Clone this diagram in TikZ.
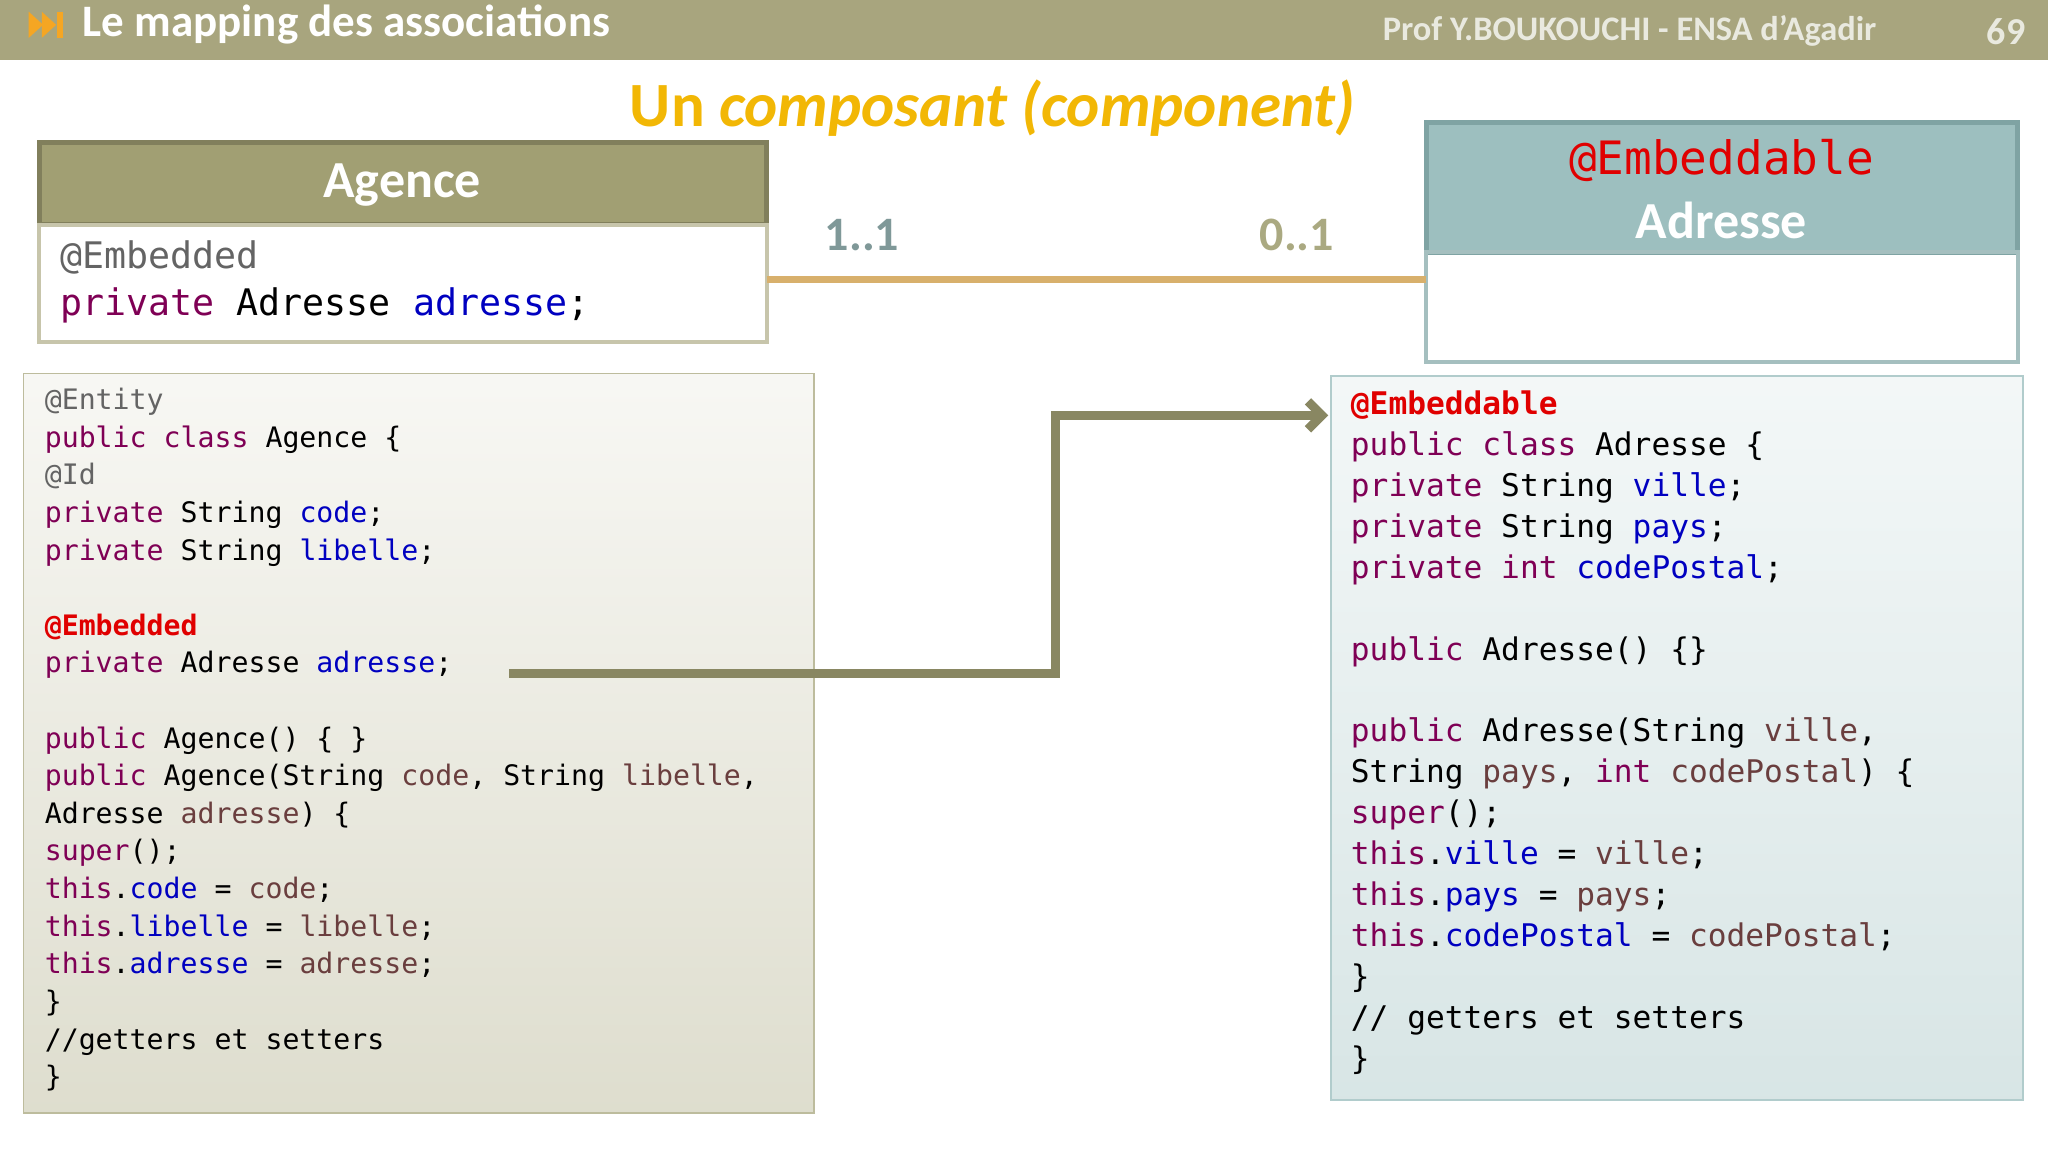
\documentclass[tikz,border=0pt]{standalone}
\usepackage{fontspec}
\usetikzlibrary{arrows.meta}
\setmainfont{Carlito}
\newfontfamily\codef{DejaVu Sans Mono}
\definecolor{kw}{HTML}{7F0055}
\definecolor{fd}{HTML}{0000C0}
\definecolor{pa}{HTML}{6A3E3E}
\definecolor{an}{HTML}{646464}
\definecolor{rd}{HTML}{E00000}
\definecolor{bar}{HTML}{A8A57E}
\definecolor{olv}{HTML}{A19F73}
\definecolor{teal}{HTML}{9DBFBF}
\definecolor{tealb}{HTML}{7FA3A3}
\definecolor{ttl}{HTML}{F2B705}
\definecolor{icn}{HTML}{F5A623}
\definecolor{lnk}{HTML}{D8B06C}
\newcommand{\kw}[1]{\textcolor{kw}{#1}}
\newcommand{\fd}[1]{\textcolor{fd}{#1}}
\newcommand{\pa}[1]{\textcolor{pa}{#1}}
\newcommand{\an}[1]{\textcolor{an}{#1}}
\newcommand{\rd}[1]{\textcolor{rd}{\bfseries #1}}
\begin{document}
\begin{tikzpicture}[x=0.653pt,y=-0.653pt,
  codebox/.style={anchor=north west,align=left,inner sep=0pt},
  hdr/.style={font=\bfseries\fontsize{26}{30}\selectfont,text=white}]
\useasboundingbox (0,0) rectangle (1568,882);
\fill[white] (0,0) rectangle (1568,882);
% top bar
\fill[bar] (0,0) rectangle (1568,46);
\fill[icn] (22,9) -- (33,19) -- (22,29) -- cycle;
\fill[icn] (32,9) -- (43,19) -- (32,29) -- cycle;
\fill[icn] (44,9) rectangle (48,29);
\node[anchor=west,text=white,font=\bfseries\fontsize{22.5}{24}\selectfont] (t1) at (58,19) {Le mapping des associations};
\node[anchor=east,text=white!75!bar,font=\bfseries\fontsize{17.2}{19}\selectfont] (t2) at (1442,24) {Prof Y.BOUKOUCHI - ENSA d'Agadir};
\node[anchor=east,text=white!75!bar,font=\bfseries\fontsize{19}{20}\selectfont] (t3) at (1556,24) {69};
% title
\node[text=ttl,font=\bfseries\fontsize{31.5}{34}\selectfont] (title) at (760,83) {Un \textit{composant (component)}};
% Agence box
\fill[olv] (30,109) rectangle (587,172);
\draw[line width=2.5pt,draw=olv!80!black] (30,109) rectangle (587,172);
\draw[line width=2pt,draw=olv!60!white] (30,172) rectangle (587,262);
\node[hdr] (ag) at (308,142) {Agence};
\node[anchor=west,align=left,inner sep=0pt,font=\codef\fontsize{18.3}{23.5}\selectfont] (agt) at (46,216)
 {\an{@Embedded}\\\kw{private} Adresse \fd{adresse};};
% Adresse box
\fill[teal] (1092,94) rectangle (1545,193);
\draw[line width=2.5pt,draw=tealb] (1092,94) rectangle (1545,193);
\draw[line width=2pt,draw=tealb!70!white] (1092,193) rectangle (1545,277);
\node[text=rd,font=\codef\fontsize{23}{26}\selectfont] (emb) at (1318,123) {@Embeddable};
\node[hdr] (adr) at (1318,169) {Adresse};
\coordinate (la) at (587,214); \coordinate (lb) at (1092,214);
\draw[line width=3.5pt,draw=lnk] (la) -- (lb);
\node[text=tealb!70!gray,font=\bfseries\fontsize{24}{26}\selectfont] (m1) at (660,180) {1..1};
\node[text=olv!90!white,font=\bfseries\fontsize{24}{26}\selectfont] (m2) at (993,180) {0..1};
% left code box
\shade[top color=olv!8!white,bottom color=olv!35!white] (18,286) rectangle (623,852);
\draw[draw=olv!70,line width=0.8pt] (18,286) rectangle (623,852);
\node[codebox,font=\codef\fontsize{14.1}{18.8}\selectfont] (lc) at (34,297) {%
\an{@Entity}\\
\kw{public class} Agence \{\\
\an{@Id}\\
\kw{private} String \fd{code};\\
\kw{private} String \fd{libelle};\\
\mbox{}\\
\rd{@Embedded}\\
\kw{private} Adresse \fd{adresse};\\
\mbox{}\\
\kw{public} Agence() \{ \}\\
\kw{public} Agence(String \pa{code}, String \pa{libelle},\\
Adresse \pa{adresse}) \{\\
\kw{super}();\\
\kw{this}.\fd{code} = \pa{code};\\
\kw{this}.\fd{libelle} = \pa{libelle};\\
\kw{this}.\fd{adresse} = \pa{adresse};\\
\}\\
//getters et setters\\
\}};
% right code box
\shade[top color=teal!12!white,bottom color=teal!40!white] (1019,288) rectangle (1549,842);
\draw[draw=teal!80,line width=0.8pt] (1019,288) rectangle (1549,842);
\node[codebox,font=\codef\fontsize{15.6}{20.45}\selectfont] (rc) at (1034,299) {%
\rd{@Embeddable}\\
\kw{public class} Adresse \{\\
\kw{private} String \fd{ville};\\
\kw{private} String \fd{pays};\\
\kw{private int} \fd{codePostal};\\
\mbox{}\\
\kw{public} Adresse() \{\}\\
\mbox{}\\
\kw{public} Adresse(String \pa{ville},\\
String \pa{pays}, \kw{int} \pa{codePostal}) \{\\
\kw{super}();\\
\kw{this}.\fd{ville} = \pa{ville};\\
\kw{this}.\fd{pays} = \pa{pays};\\
\kw{this}.\fd{codePostal} = \pa{codePostal};\\
\}\\
// getters et setters\\
\}};
% arrow
\coordinate (a0) at (390,516); \coordinate (a1) at (1017,318);
\draw[line width=4.5pt,draw=olv!85!black,-{Straight Barb[length=7pt,width=14pt]}] (a0) -- (808,516) -- (808,318) -- (a1);
\end{tikzpicture}
\end{document}
